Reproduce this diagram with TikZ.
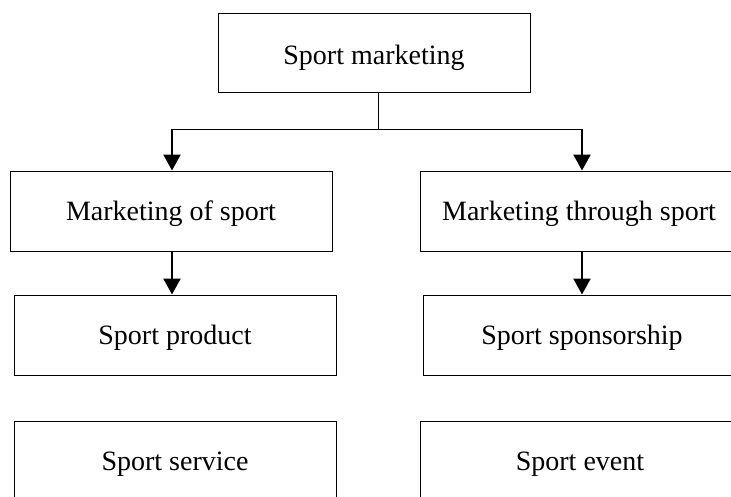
\documentclass[tikz,border=0pt]{standalone}
\usepackage{fontspec}
\setmainfont{Liberation Serif}
\usetikzlibrary{arrows.meta}
\begin{document}
\begin{tikzpicture}[x=1pt,y=-1pt,
  box/.style={draw=black,line width=1pt,rectangle,minimum height=80pt,
    inner sep=0pt,text height=25pt,text depth=6pt,
    font=\fontsize{28}{33}\selectfont},
  link/.style={draw=black,line width=0.9pt},
  flow/.style={draw=black,line width=2.3pt,
    -{Triangle[width=17pt,length=16pt]}}]
  \useasboundingbox (0,0) rectangle (731,496);
  \clip (0,0) rectangle (731,496);

  % boxes
  \node[box,minimum width=312pt,minimum height=79pt,text height=29pt] (top) at (374,52.5) {Sport marketing};
  \node[box,minimum width=322pt] (mos) at (171,211) {Marketing of sport};
  \node[box,minimum width=318pt] (mts) at (579,211) {Marketing through sport};
  \node[box,minimum width=322pt] (sprod) at (175,335) {Sport product};
  \node[box,minimum width=318pt] (sspons) at (582,335) {Sport sponsorship};
  \node[box,minimum width=322pt] (sserv) at (175,461) {Sport service};
  \node[box,minimum width=320pt] (sevent) at (580,461) {Sport event};

  % branching from the top box
  \coordinate (j) at (378,129);
  \coordinate (jl) at (172,129);
  \coordinate (jr) at (582,129);
  \draw[link] (top.south -| j) -- (j);
  \draw[link] (jl) -- (jr);
  \draw[flow] (jl) -- (jl |- mos.north);
  \draw[flow] (jr) -- (jr |- mts.north);

  % second level
  \draw[flow] (mos.south -| jl) -- (sprod.north -| jl);
  \draw[flow] (mts.south -| jr) -- (sspons.north -| jr);
\end{tikzpicture}
\end{document}
